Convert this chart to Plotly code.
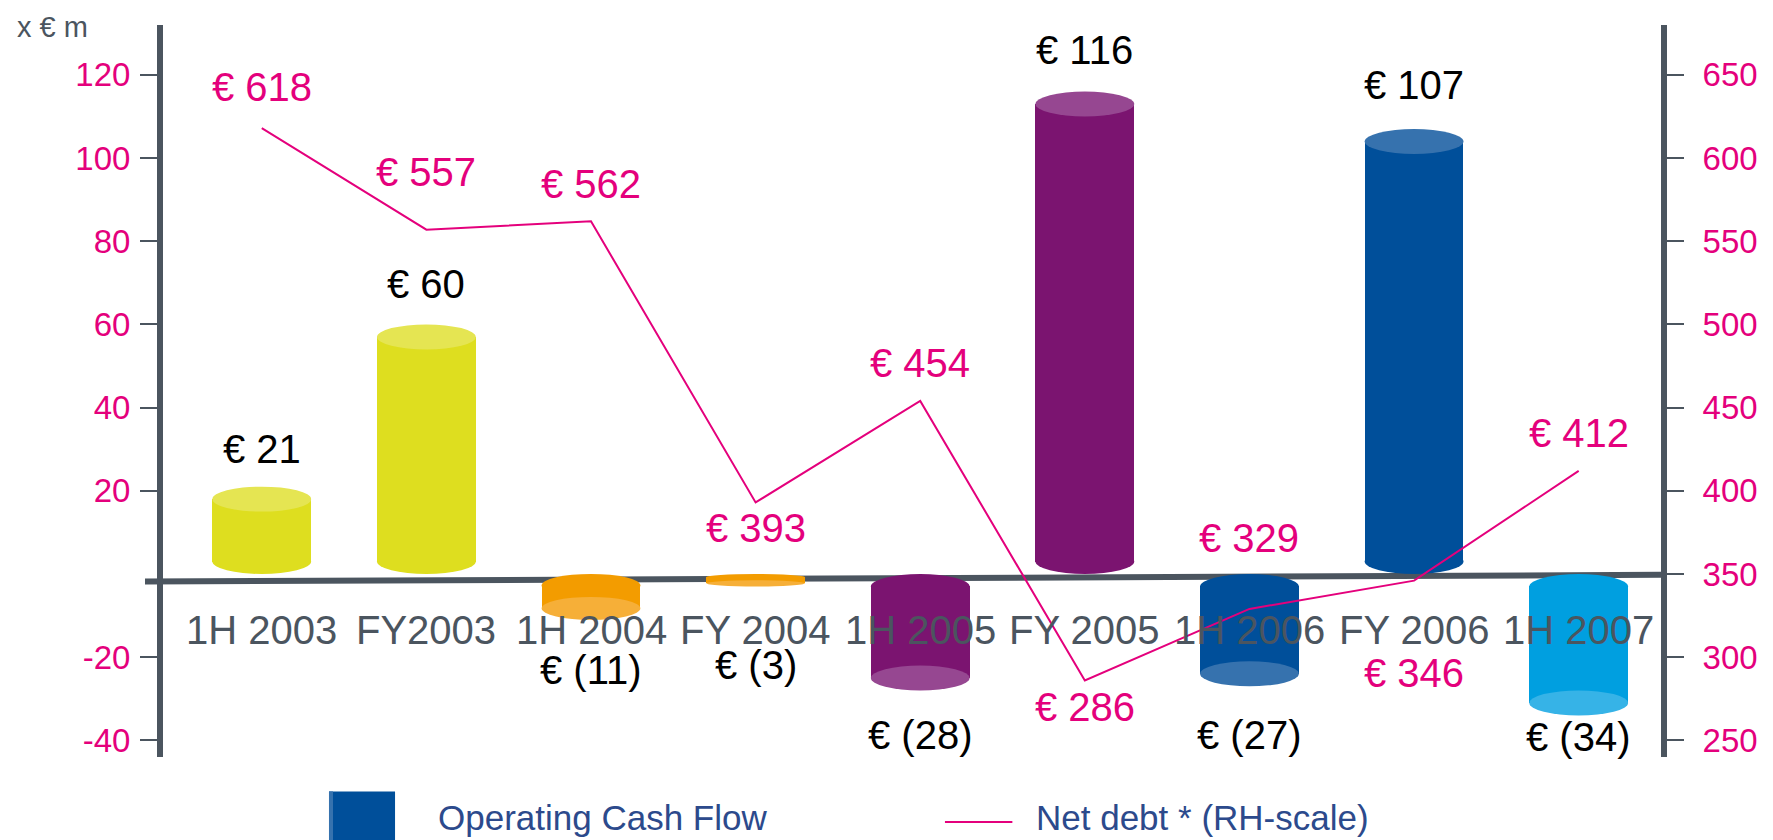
import plotly.graph_objects as go

# Operating cash flow (left scale, x EUR m) and net debt (right scale)
periods = ["1H 2003", "FY2003", "1H 2004", "FY 2004", "1H 2005",
           "FY 2005", "1H 2006", "FY 2006", "1H 2007"]
ocf = [21, 60, -11, -3, -28, 116, -27, 107, -34]
net_debt = [618, 557, 562, 393, 454, 286, 329, 346, 412]

left_ticks = [-40, -20, 20, 40, 60, 80, 100, 120]
left_tick_text = ["-40", "-20", "20", "40", "60", "80", "100", "120"]
right_ticks = [250, 300, 350, 400, 450, 500, 550, 600, 650]

# styling
body_colors = ["#dede1f", "#dede1f", "#f39c00", "#f39c00", "#7b1470",
               "#7b1470", "#004f9a", "#004f9a", "#009fe0"]
cap_colors = ["#e5e552", "#e5e552", "#f6af38", "#f6af38", "#964791",
              "#964791", "#3672ae", "#3672ae", "#36b3e7"]
ocf_label_shift = [38, 40, -50, -79, -45, 42, -49, 44, -22]
debt_label_shift = [41, 58, 37, -26, 38, -27, 71, -92, 38]

FONT = "Liberation Sans, Arial, sans-serif"
GREY = "#4b555f"
PINK = "#e4007c"
H = 3.0      # half height of the cylinder caps (left-axis units)
hw = 0.3     # half width of the cylinders (category units)

idx = list(range(len(periods)))


def fmt_ocf(v):
    return f"€ {v}" if v >= 0 else f"€ ({-v})"


caps = [min(H, abs(v) / 4) for v in ocf]
base = [c if v >= 0 else -c for v, c in zip(ocf, caps)]
top = [v - c if v >= 0 else v + c for v, c in zip(ocf, caps)]

fig = go.Figure()

fig.add_trace(go.Bar(
    x=idx, y=[t - b for t, b in zip(top, base)], base=base,
    width=2 * hw, marker=dict(color=body_colors, line=dict(width=0)),
    name="Operating Cash Flow", showlegend=False,
))

fig.add_trace(go.Scatter(
    x=idx, y=net_debt, yaxis="y2", mode="lines",
    line=dict(color=PINK, width=2),
    name="Net debt * (RH-scale)", showlegend=False,
))

shapes = []
# zero line (drawn slightly skewed, like the original)
shapes.append(dict(type="line", xref="paper", yref="y", x0=-0.012, x1=1,
                   y0=-1.8, y1=-0.2, line=dict(color=GREY, width=6),
                   layer="below"))
# cylinder ends
for i, v in enumerate(ocf):
    c = caps[i]
    if v >= 0:
        inner = (0, 2 * c)
        outer = (v - 2 * c, v)
    else:
        inner = (-2 * c, 0)
        outer = (v, v + 2 * c)
    shapes.append(dict(type="circle", xref="x", yref="y",
                       x0=i - hw, x1=i + hw, y0=inner[0], y1=inner[1],
                       fillcolor=body_colors[i], line=dict(width=0),
                       layer="below"))
    shapes.append(dict(type="circle", xref="x", yref="y",
                       x0=i - hw, x1=i + hw, y0=outer[0], y1=outer[1],
                       fillcolor=cap_colors[i], line=dict(width=0),
                       layer="above"))

# legend swatches
shapes.append(dict(type="rect", xref="paper", yref="paper",
                   x0=0.1108, x1=0.1549, y0=-0.14, y1=-0.047,
                   fillcolor="#004f9a", line=dict(width=0)))
shapes.append(dict(type="rect", xref="paper", yref="paper",
                   x0=0.1108, x1=0.1135, y0=-0.14, y1=-0.047,
                   fillcolor="#3672ae", line=dict(width=0)))
shapes.append(dict(type="line", xref="paper", yref="paper",
                   x0=0.522, x1=0.567, y0=-0.0888, y1=-0.0888,
                   line=dict(color=PINK, width=2)))

annotations = []
for i, p in enumerate(periods):
    annotations.append(dict(x=i, y=0, xref="x", yref="y", text=p,
                            showarrow=False, yanchor="middle", yshift=-56,
                            font=dict(family=FONT, size=40, color=GREY)))
for i, v in enumerate(ocf):
    annotations.append(dict(x=i, y=v, xref="x", yref="y", text=fmt_ocf(v),
                            showarrow=False, yanchor="middle",
                            yshift=ocf_label_shift[i],
                            font=dict(family=FONT, size=40, color="#000000")))
for i, d in enumerate(net_debt):
    annotations.append(dict(x=i, y=d, xref="x", yref="y2", text=f"€ {d}",
                            showarrow=False, yanchor="middle",
                            yshift=debt_label_shift[i],
                            font=dict(family=FONT, size=40, color=PINK)))

annotations.append(dict(x=-0.074, y=1.0225, xref="paper", yref="paper",
                        text="x € m", showarrow=False,
                        xanchor="center", yanchor="top",
                        font=dict(family=FONT, size=29, color=GREY)))
annotations.append(dict(x=0.1822, y=-0.083, xref="paper", yref="paper",
                        text="Operating Cash Flow", showarrow=False,
                        xanchor="left", yanchor="middle",
                        font=dict(family=FONT, size=35, color="#2c4a8c")))
annotations.append(dict(x=0.5814, y=-0.083, xref="paper", yref="paper",
                        text="Net debt * (RH-scale)", showarrow=False,
                        xanchor="left", yanchor="middle",
                        font=dict(family=FONT, size=35, color="#2c4a8c")))

# page body has an 8px margin, so offset the plot area to land where the
# reference has it (x 160..1658, y 25..757)
fig.update_layout(
    width=1773, height=840,
    margin=dict(l=155, r=120, t=17, b=91),
    paper_bgcolor="white", plot_bgcolor="white",
    showlegend=False,
    bargap=0,
    xaxis=dict(range=[-0.6, 8.5], showgrid=False, zeroline=False,
               showticklabels=False, showline=False, ticks=""),
    yaxis=dict(range=[-44, 132], tickvals=left_ticks, ticktext=left_tick_text,
               showgrid=False, zeroline=False, showline=True, linecolor=GREY,
               linewidth=6, ticks="outside", ticklen=17, tickwidth=2,
               tickcolor=GREY, ticklabelstandoff=3,
               tickfont=dict(family=FONT, size=33, color=PINK)),
    yaxis2=dict(range=[240, 680], tickvals=right_ticks, overlaying="y",
                side="right", showgrid=False, zeroline=False, showline=True,
                linecolor=GREY, linewidth=6, ticks="outside", ticklen=17,
                tickwidth=2, tickcolor=GREY, ticklabelstandoff=12,
                tickfont=dict(family=FONT, size=33, color=PINK)),
    shapes=shapes,
    annotations=annotations,
)

fig.write_html("out.html")
